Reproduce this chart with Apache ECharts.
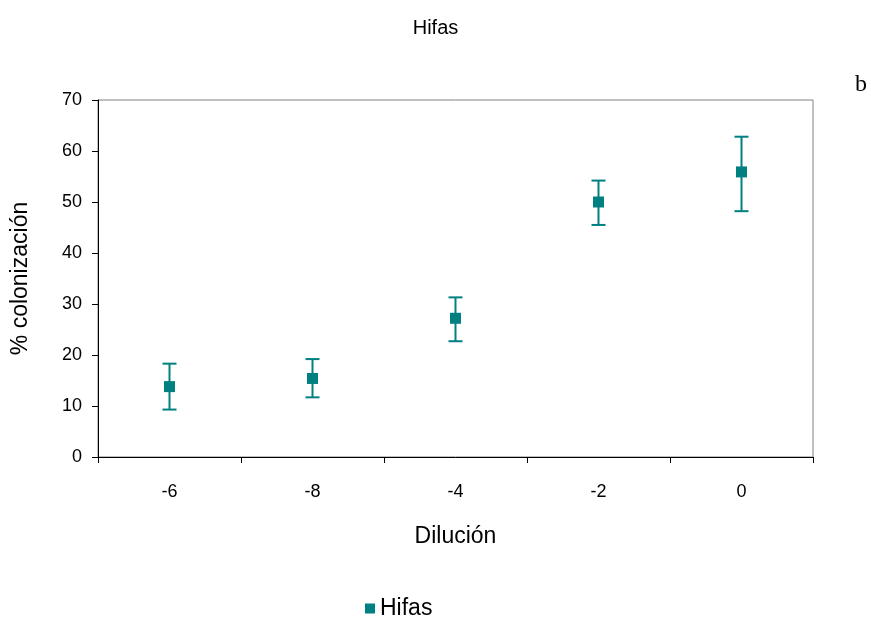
<!DOCTYPE html>
<html><head><meta charset="utf-8">
<script src="https://cdn.jsdelivr.net/npm/echarts@6/dist/echarts.min.js"></script>
<style>html,body{margin:0;padding:0;background:#fff}#c{width:871px;height:624px}</style>
</head><body><div id="c"></div>
<script>
var categories = ['-6', '-8', '-4', '-2', '0'];
var means = [13.8, 15.4, 27.2, 50.0, 55.9];
var upper = [18.3, 19.2, 31.3, 54.2, 62.8];
var lower = [9.3, 11.7, 22.7, 45.5, 48.2];
var yTicks = [0, 10, 20, 30, 40, 50, 60, 70];

var color = '#008080';
var font = 'Liberation Sans, Arial';
var chart = echarts.init(document.getElementById('c'));
var errData = categories.map(function (c, i) { return [i, lower[i], upper[i]]; });
chart.setOption({
  animation: false,
  title: [
    { text: 'Hifas', left: 'center', top: 13, textStyle: { fontFamily: font, fontSize: 20, fontWeight: 'normal', color: '#000' } },
    { text: 'b', left: 850, top: 68, textStyle: { fontFamily: 'Liberation Serif, Times New Roman', fontSize: 24, fontWeight: 'normal', color: '#000' } }
  ],
  grid: { left: 98, right: 58, top: 100, bottom: 167, show: true, borderColor: '#808080', borderWidth: 1 },
  legend: {
    data: ['Hifas'], top: 592, left: 360, icon: 'rect', itemWidth: 10, itemHeight: 10, itemGap: 6,
    textStyle: { fontFamily: font, fontSize: 23, color: '#000' }
  },
  xAxis: {
    type: 'category', data: categories, name: 'Dilución', nameLocation: 'middle', nameGap: 68,
    nameTextStyle: { fontFamily: font, fontSize: 23, color: '#000' },
    axisLine: { lineStyle: { color: '#000' } },
    axisTick: { show: true, alignWithLabel: false, length: 6, lineStyle: { color: '#000' } },
    axisLabel: { fontFamily: font, fontSize: 18, color: '#000', margin: 26 },
    splitLine: { show: false }
  },
  yAxis: {
    type: 'value', min: 0, max: 70, interval: 10, name: '% colonización', nameLocation: 'middle', nameGap: 66,
    nameTextStyle: { fontFamily: font, fontSize: 23, color: '#000' },
    axisLine: { show: true, lineStyle: { color: '#000' } },
    axisTick: { show: true, length: 6, lineStyle: { color: '#000' } },
    axisLabel: { fontFamily: font, fontSize: 18, color: '#000', margin: 16,
      formatter: function (v) { return yTicks.indexOf(v) >= 0 ? String(v) : ''; } },
    splitLine: { show: false }
  },
  series: [
    {
      name: 'Hifas', type: 'scatter', data: means, symbol: 'rect', symbolSize: 11,
      itemStyle: { color: color, opacity: 1 }, z: 3
    },
    {
      name: 'err', type: 'custom', data: errData, z: 2,
      renderItem: function (params, api) {
        var x = api.value(0);
        var lo = api.coord([x, api.value(1)]);
        var hi = api.coord([x, api.value(2)]);
        var hw = 7;
        var st = { stroke: color, lineWidth: 2 };
        return {
          type: 'group', children: [
            { type: 'line', shape: { x1: hi[0], y1: hi[1], x2: lo[0], y2: lo[1] }, style: st },
            { type: 'line', shape: { x1: hi[0] - hw, y1: hi[1], x2: hi[0] + hw, y2: hi[1] }, style: st },
            { type: 'line', shape: { x1: lo[0] - hw, y1: lo[1], x2: lo[0] + hw, y2: lo[1] }, style: st }
          ]
        };
      }
    }
  ]
});
</script></body></html>
